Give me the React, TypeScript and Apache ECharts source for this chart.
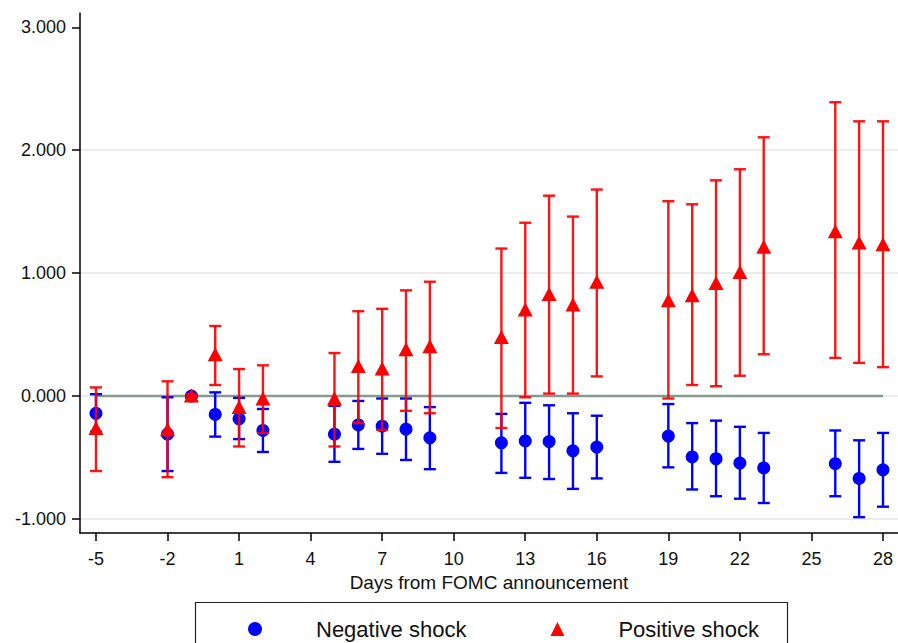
import React, { useEffect, useRef } from "react";
import * as echarts from "echarts";

// Days relative to the FOMC announcement
const days = [-5, -2, -1, 0, 1, 2, 5, 6, 7, 8, 9, 12, 13, 14, 15, 16, 19, 20, 21, 22, 23, 26, 27, 28];

// Negative shock: point estimate and confidence band
const negEst = [-0.14, -0.31, 0.0, -0.15, -0.185, -0.28, -0.31, -0.235, -0.245, -0.27, -0.34, -0.38, -0.365, -0.37, -0.445, -0.415, -0.325, -0.495, -0.51, -0.545, -0.585, -0.55, -0.67, -0.6];
const negLo = [-0.29, -0.61, -0.01, -0.33, -0.35, -0.455, -0.535, -0.43, -0.47, -0.52, -0.595, -0.625, -0.665, -0.675, -0.755, -0.67, -0.58, -0.76, -0.815, -0.835, -0.87, -0.815, -0.985, -0.9];
const negHi = [0.015, -0.01, 0.01, 0.03, -0.015, -0.105, -0.08, -0.04, -0.02, -0.02, -0.09, -0.145, -0.055, -0.075, -0.14, -0.16, -0.065, -0.22, -0.2, -0.25, -0.3, -0.28, -0.36, -0.3];

// Positive shock: point estimate and confidence band
const posEst = [-0.26, -0.27, 0.005, 0.34, -0.09, -0.02, -0.02, 0.245, 0.225, 0.38, 0.405, 0.48, 0.705, 0.83, 0.745, 0.93, 0.78, 0.82, 0.92, 1.01, 1.215, 1.34, 1.25, 1.235];
const posLo = [-0.61, -0.66, -0.005, 0.09, -0.41, -0.3, -0.41, -0.22, -0.275, -0.12, -0.14, -0.26, -0.01, 0.02, 0.02, 0.16, -0.02, 0.09, 0.08, 0.165, 0.34, 0.31, 0.27, 0.235];
const posHi = [0.07, 0.12, 0.015, 0.57, 0.22, 0.25, 0.35, 0.69, 0.71, 0.86, 0.93, 1.2, 1.41, 1.63, 1.46, 1.68, 1.585, 1.56, 1.755, 1.845, 2.105, 2.39, 2.235, 2.235];

// Axis ticks
const xTicks = [-5, -2, 1, 4, 7, 10, 13, 16, 19, 22, 25, 28];
const yTicks = [-1, 0, 1, 2, 3];
const gridValues = [-1, 0, 1, 2];

const FONT = "Liberation Sans, Arial, sans-serif";
const BLUE = "#0000ff";
const RED = "#ff0000";

function errorBars(name: string, lo: number[], hi: number[], color: string, z: number, opacity: number) {
  return {
    name,
    type: "custom",
    z,
    data: days.map((d, i) => [d, lo[i], hi[i]]),
    encode: { x: 0, y: [1, 2] },
    renderItem: (_params: any, api: any) => {
      const x = api.value(0);
      const pLo = api.coord([x, api.value(1)]);
      const pHi = api.coord([x, api.value(2)]);
      const hw = 6;
      const style = { stroke: color, lineWidth: 2.4, opacity };
      return {
        type: "group",
        children: [
          { type: "line", shape: { x1: pLo[0], y1: pLo[1], x2: pHi[0], y2: pHi[1] }, style },
          { type: "line", shape: { x1: pLo[0] - hw, y1: pLo[1], x2: pLo[0] + hw, y2: pLo[1] }, style },
          { type: "line", shape: { x1: pHi[0] - hw, y1: pHi[1], x2: pHi[0] + hw, y2: pHi[1] }, style },
        ],
      };
    },
  };
}

export default function App() {
  const ref = useRef<HTMLDivElement>(null);

  useEffect(() => {
    if (!ref.current) return;
    const chart = echarts.init(ref.current, undefined, { renderer: "svg" });
    chart.setOption({
      animation: false,
      backgroundColor: "#ffffff",
      grid: { left: 80, right: 0, top: 13, bottom: 110, containLabel: false },
      xAxis: {
        type: "value",
        min: -5.67,
        max: 28.63,
        axisLine: { show: true, onZero: false, lineStyle: { color: "#000", width: 1.5 } },
        axisTick: { show: true, length: 8, customValues: xTicks, lineStyle: { color: "#000", width: 1.5 } },
        axisLabel: { customValues: xTicks, color: "#111", fontSize: 18, fontFamily: FONT, margin: 17 },
        splitLine: { show: false },
        name: "Days from FOMC announcement",
        nameLocation: "middle",
        nameGap: 37,
        nameTextStyle: { color: "#111", fontSize: 19, fontFamily: FONT },
      },
      yAxis: {
        type: "value",
        min: -1.114,
        max: 3.116,
        axisLine: { show: true, onZero: false, lineStyle: { color: "#000", width: 1.5 } },
        axisTick: { show: true, length: 8, customValues: yTicks, lineStyle: { color: "#000", width: 1.5 } },
        axisLabel: {
          customValues: yTicks,
          color: "#111",
          fontSize: 18,
          fontFamily: FONT,
          margin: 14,
          formatter: (v: number) => v.toFixed(3),
        },
        splitLine: { show: false },
      },
      legend: {
        left: 243,
        top: 613,
        orient: "horizontal",
        itemWidth: 14,
        itemHeight: 14,
        itemGap: 84,
        textStyle: { fontSize: 22, fontFamily: FONT, color: "#111", padding: [0, 0, 0, 49] },
        data: [
          { name: "Negative shock", icon: "circle" },
          { name: "Positive shock", icon: "triangle" },
        ],
      },
      graphic: [
        {
          type: "rect",
          shape: { x: 195.5, y: 602.5, width: 592, height: 60 },
          style: { fill: "none", stroke: "#222", lineWidth: 1.2 },
          silent: true,
        },
      ],
      series: [
        {
          name: "Zero",
          type: "line",
          z: 1,
          data: [[-5, 0], [28, 0]],
          symbol: "none",
          lineStyle: { color: "#7f9c8f", width: 2.5 },
          silent: true,
          markLine: {
            silent: true,
            symbol: "none",
            label: { show: false },
            lineStyle: { color: "#ececec", width: 2, type: "solid" },
            data: gridValues.map((v) => ({ yAxis: v })),
            z: 0,
          },
        },
        errorBars("Negative shock CI", negLo, negHi, BLUE, 2, 1),
        {
          name: "Negative shock",
          type: "scatter",
          z: 3,
          symbol: "circle",
          symbolSize: 13,
          itemStyle: { color: BLUE, opacity: 1 },
          data: days.map((d, i) => [d, negEst[i]]),
        },
        errorBars("Positive shock CI", posLo, posHi, RED, 4, 0.92),
        {
          name: "Positive shock",
          type: "scatter",
          z: 5,
          symbol: "triangle",
          symbolSize: [15, 14],
          itemStyle: { color: RED, opacity: 1 },
          data: days.map((d, i) => [d, posEst[i]]),
        },
      ],
    });
    return () => chart.dispose();
  }, []);

  return <div ref={ref} style={{ position: "fixed", left: 0, top: 0, width: 898, height: 643 }} />;
}
